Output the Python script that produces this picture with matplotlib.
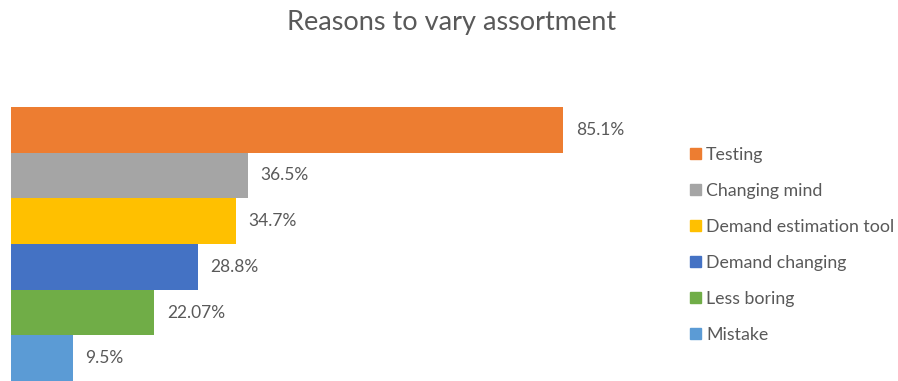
import numpy as np
import matplotlib.pyplot as plt
from matplotlib.patches import Patch

plt.rcParams['font.family'] = ['Lato', 'DejaVu Sans']

reasons = ['Testing', 'Changing mind', 'Demand estimation tool',
           'Demand changing', 'Less boring', 'Mistake']
shares = [85.1, 36.5, 34.7, 28.8, 22.07, 9.5]
share_labels = ['85.1%', '36.5%', '34.7%', '28.8%', '22.07%', '9.5%']
colors = ['#ED7D31', '#A5A5A5', '#FFC000', '#4472C4', '#70AD47', '#5B9BD5']

text_color = '#595959'

fig = plt.figure(figsize=(8.98, 3.81), dpi=100)
ax = fig.add_axes([11 / 898, 0, 649 / 898, 274 / 381])

ypos = np.arange(len(reasons))[::-1]
ax.barh(ypos, shares, height=1.0, color=colors)
for y, v, lab in zip(ypos, shares, share_labels):
    ax.annotate(lab, (v, y), xytext=(9, 0), textcoords='offset points',
                va='center', ha='left', fontsize=12.5, color=text_color)

ax.set_xlim(0, 100)
ax.set_ylim(-0.5, len(reasons) - 0.5)
ax.axis('off')

fig.text(0.503, 0.94, 'Reasons to vary assortment', ha='center', va='center',
         fontsize=19.5, color=text_color)

handles = [Patch(color=c) for c in colors]
fig.legend(handles, reasons, loc='upper left', bbox_to_anchor=(690 / 898, 1 - 147 / 381),
           frameon=False, fontsize=12.8, labelcolor=text_color,
           handlelength=0.6, handleheight=0.6, handletextpad=0.3,
           labelspacing=1.12, borderaxespad=0, borderpad=0)

fig.savefig('out.png', dpi=100)
